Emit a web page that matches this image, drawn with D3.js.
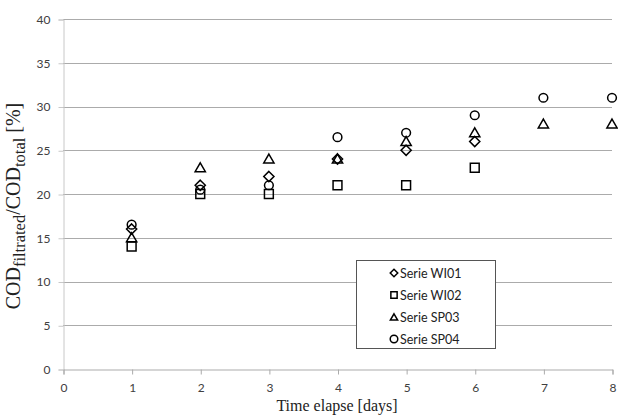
<!DOCTYPE html>
<html><head><meta charset="utf-8">
<script src="https://cdn.jsdelivr.net/npm/d3@7"></script>
<style>body{margin:0;background:#fff}svg{display:block}</style>
</head><body><svg id="c" width="618" height="416"></svg>
<script>
const days = [1,2,3,4,5,6,7,8];
const wi01 = [16,21,22,24,25,26,null,null];
const wi02 = [14,20,20,21,21,23,null,null];
const sp03 = [15,23,24,24,26,27,28,28];
const sp04 = [16.5,20.5,21,26.5,27,29,31,31];
const seriesNames = ["Serie WI01","Serie WI02","Serie SP03","Serie SP04"];
const yTicks = [0,5,10,15,20,25,30,35,40];
const xTicks = [0,1,2,3,4,5,6,7,8];

const svg = d3.select("#c");
const L=63, R=612, T=19, B=369;
const x = d3.scaleLinear().domain([0,8]).range([L,R]);
const y = d3.scaleLinear().domain([0,40]).range([B,T]);
const tickFont = "Lato, 'Open Sans', sans-serif";

// gridlines
svg.append("g").selectAll("line").data(yTicks.filter(d=>d>0)).join("line")
  .attr("x1",L).attr("x2",R).attr("y1",d=>Math.round(y(d))+0.5).attr("y2",d=>Math.round(y(d))+0.5)
  .attr("stroke","#ababab").attr("stroke-width",1);

// y axis
const ya = svg.append("g").attr("transform",`translate(${L+0.5},0.5)`)
  .call(d3.axisLeft(y).tickValues(yTicks).tickSize(5).tickPadding(8));
ya.select(".domain").attr("stroke","#c8c8c8");
ya.selectAll(".tick line").attr("stroke","#c8c8c8");
ya.selectAll("text").attr("font-family",tickFont).attr("font-size",12).attr("fill","#404040");

// x axis
const xa = svg.append("g").attr("transform",`translate(0.5,${B+0.5})`)
  .call(d3.axisBottom(x).tickValues(xTicks).tickSize(5).tickPadding(9));
xa.select(".domain").attr("stroke","#ababab");
xa.selectAll(".tick line").attr("stroke","#ababab");
xa.selectAll("text").attr("font-family",tickFont).attr("font-size",12).attr("fill","#404040");

// symbols
const types = [d3.symbolDiamond2, d3.symbolSquare2, d3.symbolTriangle2, d3.symbolCircle];
const sizes = [66, 100, 75, 60];
const all = [wi01,wi02,sp03,sp04];
// draw order: square, diamond, triangle, circle
[1,0,2,3].forEach(si=>{
  const pts = days.map((d,i)=>({d, v:all[si][i]})).filter(p=>p.v!=null);
  svg.append("g").selectAll("path").data(pts).join("path")
    .attr("d",d3.symbol().type(types[si]).size(sizes[si])())
    .attr("transform",p=>`translate(${x(p.d)},${y(p.v)})${si===2?" translate(0,1)":""}`)
    .attr("fill","none").attr("stroke","#000").attr("stroke-width",1.5);
});

// legend
const lg = svg.append("g");
lg.append("rect").attr("x",356.5).attr("y",260.5).attr("width",139).attr("height",88)
  .attr("fill","#fff").attr("stroke","#555").attr("stroke-width",1);
seriesNames.forEach((n,i)=>{
  const yy = 273 + i*22;
  lg.append("path").attr("d",d3.symbol().type(types[i]).size([36,50,38,45][i])())
    .attr("transform",`translate(394,${yy + (i===2?1:0)})`).attr("fill","none").attr("stroke","#000").attr("stroke-width",1.5);
  lg.append("text").attr("x",400).attr("y",yy).attr("dy","0.36em")
    .attr("font-family",tickFont).attr("font-size",12.5).attr("fill","#222").text(n);
});

// axis titles
const serif = "'Liberation Serif','DejaVu Serif',serif";
svg.append("text").attr("x",337).attr("y",411).attr("text-anchor","middle")
  .attr("font-family",serif).attr("font-size",16).attr("fill","#222").text("Time elapse [days]");
const yt = svg.append("text").attr("transform","translate(20,206) rotate(-90)").attr("text-anchor","middle")
  .attr("font-family",serif).attr("font-size",20).attr("fill","#222");
yt.append("tspan").text("COD");
yt.append("tspan").attr("font-size",16.5).attr("dy",5).text("filtrated");
yt.append("tspan").attr("dy",-5).text("/COD");
yt.append("tspan").attr("font-size",16.5).attr("dy",5).text("total");
yt.append("tspan").attr("dy",-5).text(" [%]");
</script></body></html>
